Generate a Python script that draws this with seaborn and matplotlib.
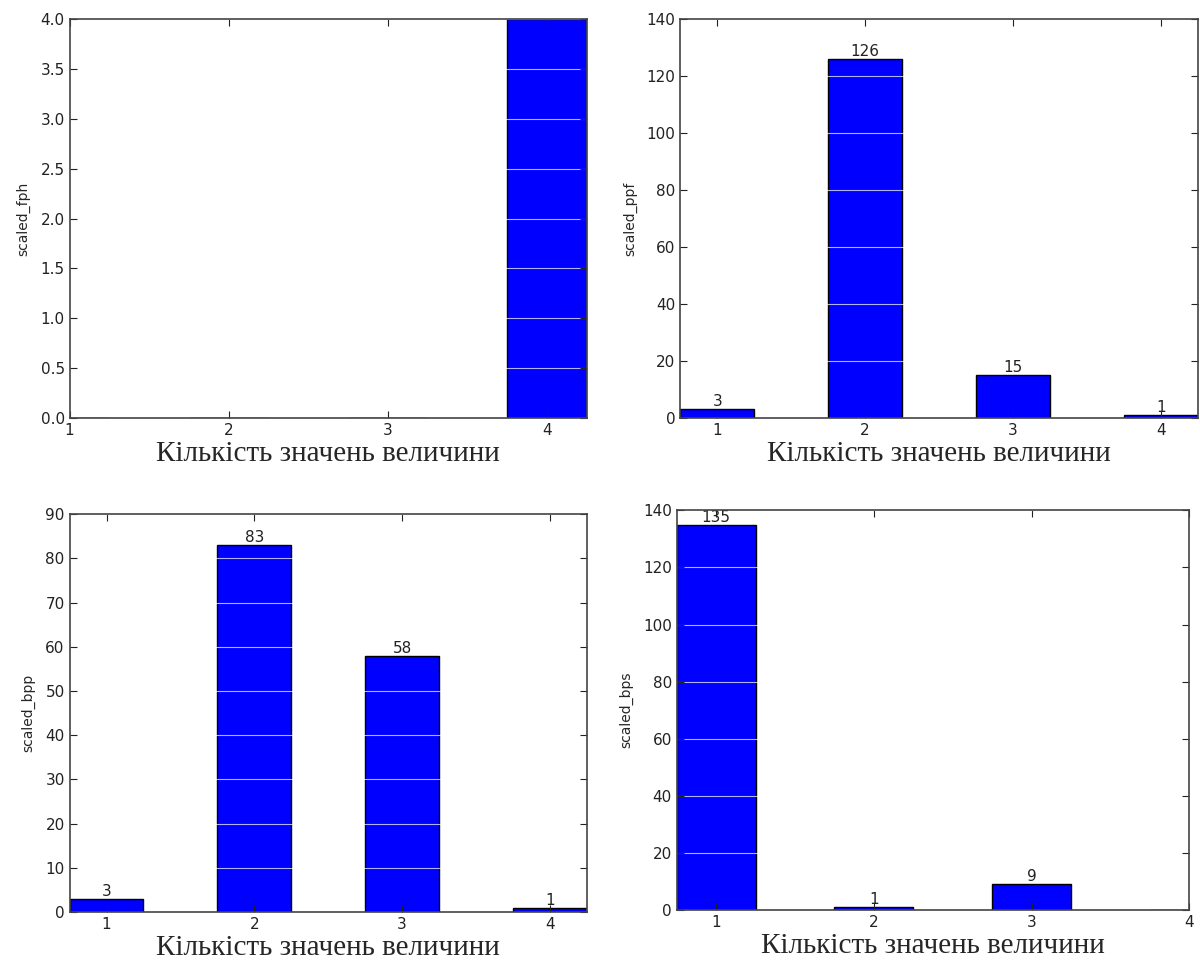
import matplotlib
matplotlib.use("Agg")
import matplotlib.pyplot as plt
import seaborn as sns

# values counts per chart
positions = [1, 2, 3, 4]
fph_values = [0, 0, 0, 4]
ppf_values = [3, 126, 15, 1]
bpp_values = [3, 83, 58, 1]
bps_values = [135, 1, 9, 0]

xlabel_text = "Кількість значень величини"

sns.set_style("ticks")
plt.rcParams["font.family"] = ["DejaVu Sans"]
plt.rcParams["xtick.direction"] = "in"
plt.rcParams["ytick.direction"] = "in"
plt.rcParams["xtick.top"] = True
plt.rcParams["ytick.right"] = True

fig = plt.figure(figsize=(12, 9.61), dpi=100)

panels = [
    # name, values, ylim, yticks step, xlim, annotate, rect
    ("scaled_fph", fph_values, 4.0, 0.5, (1, 4.25), False, [0.058, 0.565, 0.431, 0.415]),
    ("scaled_ppf", ppf_values, 140, 20, (0.75, 4.25), True, [0.567, 0.565, 0.431, 0.415]),
    ("scaled_bpp", bpp_values, 90, 10, (0.75, 4.25), True, [0.058, 0.051, 0.431, 0.414]),
    ("scaled_bps", bps_values, 140, 20, (0.75, 4.0), True, [0.564, 0.053, 0.427, 0.416]),
]

for name, values, ytop, ystep, xlim, annotate, rect in panels:
    ax = fig.add_axes(rect)
    sns.barplot(x=positions, y=values, native_scale=True, width=0.5,
                color="#0000ff", saturation=1, edgecolor="black",
                linewidth=1, ax=ax)
    ax.set_xlim(*xlim)
    ax.set_ylim(0, ytop)
    ax.set_xticks(positions)
    ax.set_xticklabels([str(p) for p in positions])
    n = int(round(ytop / ystep))
    ax.set_yticks([i * ystep for i in range(n + 1)])
    if ystep < 1:
        ax.set_yticklabels([f"{i * ystep:.1f}" for i in range(n + 1)])
    ax.tick_params(labelsize=11, colors="#222222", length=5, width=0.8)
    ax.yaxis.grid(True, color="white", linewidth=0.8, alpha=0.7)
    ax.set_axisbelow(False)
    for s in ax.spines.values():
        s.set_color("#444444")
        s.set_linewidth(1.2)
        s.set_zorder(3)
    if annotate:
        for x, v in zip(positions, values):
            if v > 0:
                ax.text(x, v, str(v), ha="center", va="bottom",
                        fontsize=11, color="#222222")
    ax.set_ylabel(name, fontsize=10, labelpad=7)
    ax.set_xlabel(xlabel_text, fontsize=21,
                  family=["Liberation Serif", "DejaVu Serif"], labelpad=2)

fig.savefig("out.png", dpi=100)
